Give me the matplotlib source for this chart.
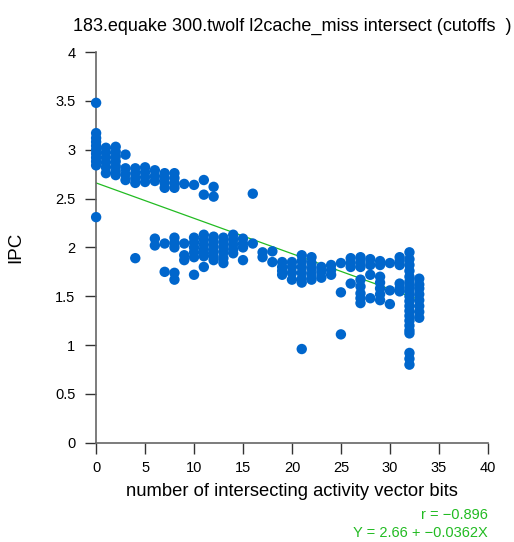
import numpy as np
import matplotlib.pyplot as plt

plt.rcParams['font.family'] = ['Liberation Sans', 'DejaVu Sans']

# IPC samples grouped by number of intersecting activity vector bits
ipc_by_bits = {
    0: [3.48, 3.17, 3.12, 3.08, 3.04, 3.0, 2.96, 2.92, 2.88, 2.84, 2.31],
    1: [3.02, 2.97, 2.92, 2.87, 2.82, 2.76],
    2: [3.03, 2.98, 2.93, 2.88, 2.83, 2.78, 2.74],
    3: [2.95, 2.81, 2.75, 2.69],
    4: [2.81, 2.76, 2.71, 2.66, 1.89],
    5: [2.82, 2.77, 2.72, 2.67],
    6: [2.79, 2.73, 2.68, 2.09, 2.02],
    7: [2.76, 2.71, 2.66, 2.61, 2.04, 1.75],
    8: [2.76, 2.71, 2.66, 2.61, 2.1, 2.05, 2.0, 1.74, 1.67],
    9: [2.65, 2.04, 1.92, 1.87],
    10: [2.64, 2.1, 2.05, 2.0, 1.95, 1.9, 1.72],
    11: [2.69, 2.54, 2.13, 2.08, 2.03, 1.98, 1.94, 1.91, 1.8],
    12: [2.62, 2.52, 2.11, 2.06, 2.01, 1.96, 1.91, 1.87],
    13: [2.1, 2.05, 2.0, 1.95, 1.89, 1.84],
    14: [2.13, 2.08, 2.03, 1.98, 1.94],
    15: [2.09, 2.04, 2.0, 1.87],
    16: [2.55, 2.04],
    17: [1.95, 1.9],
    18: [1.96, 1.85],
    19: [1.85, 1.8, 1.76, 1.72],
    20: [1.85, 1.8, 1.74, 1.67],
    21: [1.92, 1.86, 1.8, 1.74, 1.68, 1.64, 0.96],
    22: [1.9, 1.84, 1.78, 1.72, 1.67],
    23: [1.8, 1.75, 1.69],
    24: [1.82, 1.77, 1.72],
    25: [1.84, 1.54, 1.11],
    26: [1.89, 1.84, 1.8, 1.63],
    27: [1.9, 1.85, 1.8, 1.67, 1.6, 1.53, 1.48, 1.43],
    28: [1.88, 1.82, 1.72, 1.48],
    29: [1.86, 1.82, 1.7, 1.64, 1.58, 1.52, 1.46],
    30: [1.84, 1.56, 1.42],
    31: [1.9, 1.86, 1.82, 1.63, 1.58, 1.55],
    32: [1.95, 1.88, 1.82, 1.76, 1.7, 1.65, 1.6, 1.55, 1.5, 1.45, 1.4,
         1.35, 1.3, 1.25, 1.2, 1.15, 1.12, 0.92, 0.86, 0.8],
    33: [1.68, 1.62, 1.58, 1.52, 1.46, 1.4, 1.34, 1.28],
}
bits = [b for b, vals in ipc_by_bits.items() for _ in vals]
ipc = [v for vals in ipc_by_bits.values() for v in vals]

# least-squares fit reported under the plot
fit_intercept = 2.66
fit_slope = -0.0362
fit_r = -0.896
fit_range = [0, 33]

title = "183.equake 300.twolf l2cache_miss intersect (cutoffs  )"
x_ticks = list(range(0, 41, 5))
y_ticks = [0, 0.5, 1, 1.5, 2, 2.5, 3, 3.5, 4]

fig = plt.figure(figsize=(5.14, 5.42), dpi=100)
ax = fig.add_axes([0.187, 0.183, 0.762, 0.721])

ax.scatter(bits, ipc, s=56, color='#0066CC', edgecolors='none',
           clip_on=False, zorder=3)
fx = np.array(fit_range)
ax.plot(fx, fit_intercept + fit_slope * fx, color='#22BB22', lw=0.9, zorder=2)

ax.set_xlim(0, 40)
ax.set_ylim(0, 4)
ax.set_xticks(x_ticks)
ax.set_yticks(y_ticks)
ax.set_yticklabels([f"{t:g}" for t in y_ticks])
for s in ['top', 'right']:
    ax.spines[s].set_visible(False)
for s in ['left', 'bottom']:
    ax.spines[s].set_color('#666666')
    ax.spines[s].set_linewidth(1.2)
ax.tick_params(direction='out', length=8, width=1, color='#333333',
               labelsize=10.5)
ax.tick_params(axis='x', pad=5)
ax.tick_params(axis='y', pad=7)

ax.set_xlabel("number of intersecting activity vector bits", fontsize=13.2, labelpad=6)
ax.set_ylabel("IPC", fontsize=13.5, labelpad=22)
ax.set_title(title, fontsize=13, pad=15)

fig.text(488 / 514, 1 - 515 / 542, f"r = \u2212{abs(fit_r):.3f}",
         color='#22BB22', fontsize=10.5, ha='right', va='center')
fig.text(488 / 514, 1 - 533 / 542,
         f"Y = {fit_intercept:.2f} + \u2212{abs(fit_slope):.4f}X",
         color='#22BB22', fontsize=10.5, ha='right', va='center')

fig.savefig('out.png', dpi=100)
